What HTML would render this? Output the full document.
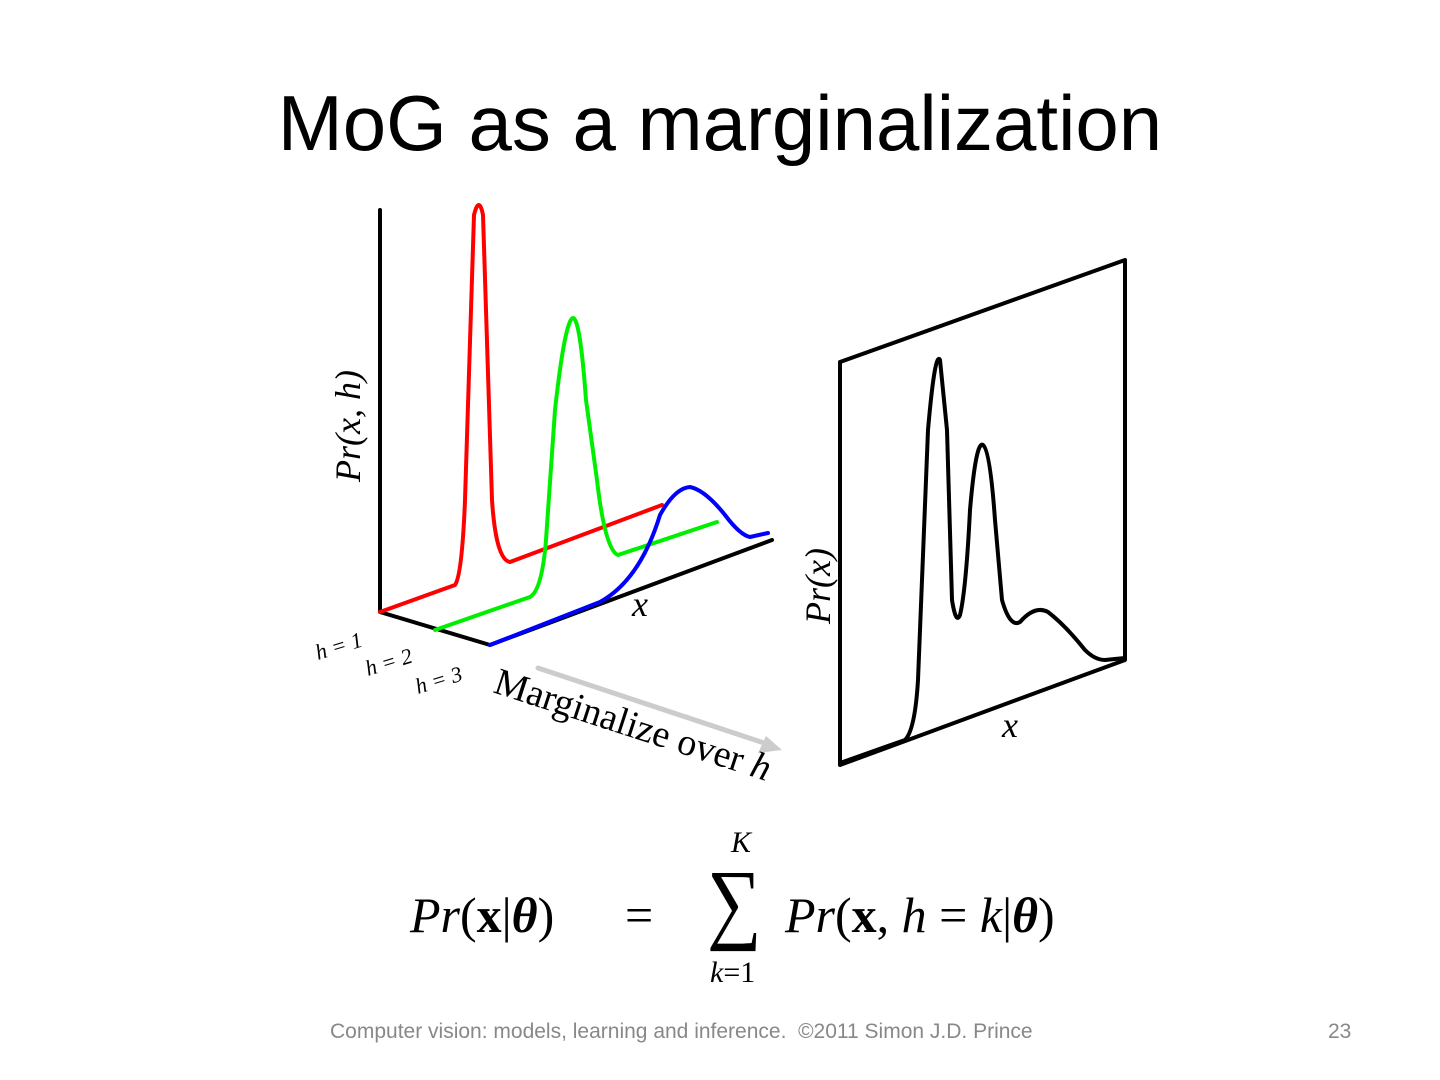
<!DOCTYPE html>
<html><head><meta charset="utf-8"><style>
html,body{margin:0;padding:0;background:#fff;}
body{width:1440px;height:1080px;position:relative;overflow:hidden;}
.t{position:absolute;left:0;width:1440px;top:78px;text-align:center;font-family:"Liberation Sans",sans-serif;font-size:78px;color:#000;}
.f{position:absolute;top:1020px;font-family:"Liberation Sans",sans-serif;font-size:21px;color:#888;}
</style></head><body>
<div class="t">MoG as a marginalization</div>
<svg width="1440" height="1080" style="position:absolute;left:0;top:0" font-family="Liberation Serif,serif">
<g fill="none" stroke-linejoin="round" stroke-linecap="round">
<path d="M380 210V612L490 645L772 540" stroke="#000" stroke-width="4"/>
<path d="M380 612L455 585Q462 575 465 500L474 215Q479 195 483 215L492 500Q496 560 510 562L662 505" stroke="#f00" stroke-width="4"/>
<path d="M435 630L530 597Q542 590 546 540L555 410Q565 320 573 318Q580 318 586 400L597 480Q605 550 618 555L717 522" stroke="#0e0" stroke-width="4"/>
<path d="M490 645L600 602Q640 580 660 515Q675 488 690 487Q705 490 725 515Q740 535 750 537L768 533" stroke="#00f" stroke-width="4"/>
<path d="M840 362V765L1125 660V260L840 362" stroke="#000" stroke-width="4"/>
<path d="M840 763L905 740Q915 730 918 680L928 430Q935 350 940 360L947 430L952 600Q956 625 960 615Q966 590 970 510Q976 440 983 445Q990 450 995 520L1002 600Q1010 628 1020 622Q1035 605 1048 612Q1065 625 1085 650Q1095 660 1105 660L1125 658" stroke="#000" stroke-width="4"/>
<path d="M538 668L770 745" stroke="#ccc" stroke-width="5"/>
</g>
<polygon points="782,750 758,753 766,736" fill="#ccc"/>
<g font-style="italic" font-size="36">
<text transform="translate(360,482) rotate(-90)">Pr(x, h)</text>
<text transform="translate(830,624) rotate(-90)">Pr(x)</text>
<text x="632" y="616">x</text>
<text x="1002" y="737">x</text>
</g>
<g font-size="22" font-style="italic">
<text transform="translate(318,660) rotate(-17)">h = 1</text>
<text transform="translate(368,676) rotate(-17)">h = 2</text>
<text transform="translate(418,694) rotate(-17)">h = 3</text>
</g>
<text transform="translate(492,692) rotate(18)" font-size="38">Marginalize over <tspan font-style="italic">h</tspan></text>
<g font-size="50">
<text x="410" y="932"><tspan font-style="italic">Pr</tspan>(<tspan font-weight="bold">x</tspan>|<tspan font-weight="bold" font-style="italic">θ</tspan>)</text>
<text x="625" y="932">=</text>
<text x="707" y="932" font-size="90" transform="translate(707,0) scale(0.85,1) translate(-707,0)">∑</text>
<text x="731" y="852" font-size="30" font-style="italic">K</text>
<text x="710" y="982" font-size="30"><tspan font-style="italic">k</tspan>=1</text>
<text x="785" y="932"><tspan font-style="italic">Pr</tspan>(<tspan font-weight="bold">x</tspan>, <tspan font-style="italic">h</tspan> = <tspan font-style="italic">k</tspan>|<tspan font-weight="bold" font-style="italic">θ</tspan>)</text>
</g>
</svg>
<div class="f" style="left:330px">Computer vision: models, learning and inference.&nbsp; ©2011 Simon J.D. Prince</div>
<div class="f" style="left:1328px">23</div>
</body></html>
